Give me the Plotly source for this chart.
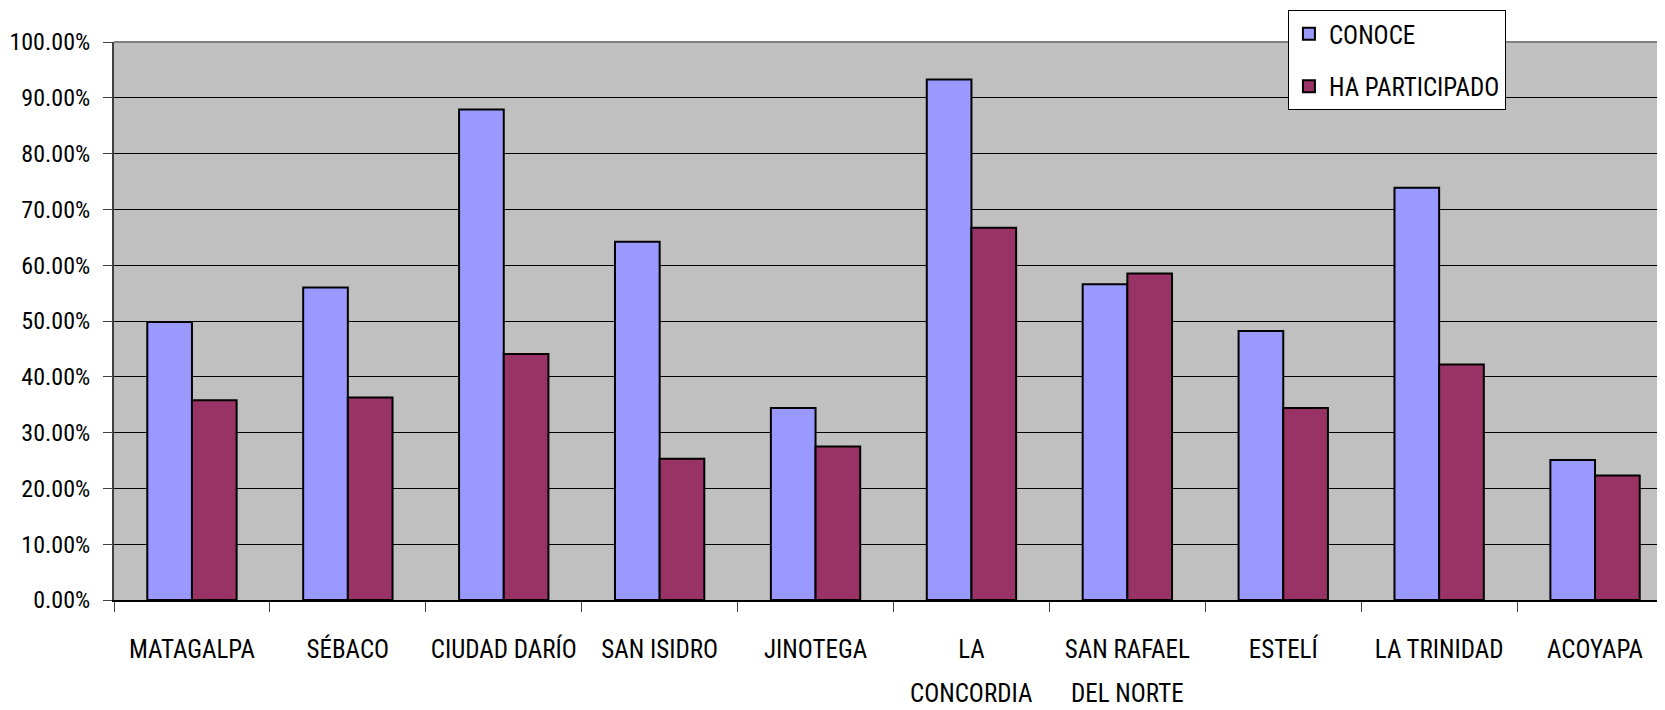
import plotly.graph_objects as go

categories = ["MATAGALPA", "SÉBACO", "CIUDAD DARÍO", "SAN ISIDRO", "JINOTEGA",
              "LA CONCORDIA", "SAN RAFAEL DEL NORTE", "ESTELÍ", "LA TRINIDAD", "ACOYAPA"]
label_line1 = ["MATAGALPA", "SÉBACO", "CIUDAD DARÍO", "SAN ISIDRO", "JINOTEGA",
               "LA", "SAN RAFAEL", "ESTELÍ", "LA TRINIDAD", "ACOYAPA"]
label_line2 = ["", "", "", "", "", "CONCORDIA", "DEL NORTE", "", "", ""]
conoce = [49.8, 56.0, 87.9, 64.2, 34.4, 93.3, 56.6, 48.2, 73.9, 25.1]
participado = [35.8, 36.3, 44.1, 25.3, 27.5, 66.7, 58.5, 34.4, 42.2, 22.3]

FONT = "Liberation Sans Narrow, Arial Narrow, Roboto Condensed, Liberation Sans, sans-serif"

fig = go.Figure()
fig.add_trace(go.Bar(x=categories, y=[v / 100 for v in conoce], name="CONOCE",
                     marker=dict(color="#9999FF", line=dict(color="black", width=2)),
                     legendgroup="a"))
fig.add_trace(go.Bar(x=categories, y=[v / 100 for v in participado], name="HA PARTICIPADO",
                     marker=dict(color="#993366", line=dict(color="black", width=2)),
                     legendgroup="b"))

annotations = []
for c, l2 in zip(categories, label_line2):
    if l2:
        annotations.append(dict(x=c, xref="x", y=-0.1677, yref="paper", text=l2,
                                showarrow=False, yanchor="middle",
                                font=dict(family=FONT, size=25, color="black")))

fig.update_layout(
    width=1665, height=710,
    margin=dict(l=106, r=0, t=34, b=118, autoexpand=False),
    paper_bgcolor="white", plot_bgcolor="#C0C0C0",
    bargap=0.427, bargroupgap=0,
    font=dict(family=FONT, size=25, color="black"),
    legend=dict(x=0.753, xref="paper", y=1 - 2 / 710, yref="container",
                xanchor="left", yanchor="top",
                bgcolor="white", bordercolor="black", borderwidth=1,
                font=dict(family=FONT, size=25, color="black"),
                tracegroupgap=17, traceorder="grouped"),
    annotations=annotations,
    shapes=[dict(type="line", xref="paper", yref="paper", x0=0, x1=1, y0=1, y1=1,
                 line=dict(color="#808080", width=2))],
    xaxis=dict(tickvals=categories, ticktext=label_line1, tickson="boundaries",
               ticks="outside", ticklen=10, tickcolor="#404040", tickwidth=1,
               ticklabelstandoff=26,
               showline=True, linecolor="black", linewidth=2, showgrid=False,
               tickfont=dict(family=FONT, size=25, color="black")),
    yaxis=dict(range=[0, 1], dtick=0.1, tickformat=".2%",
               ticks="outside", ticklen=9, tickcolor="#404040",
               ticklabelstandoff=8,
               showline=True, linecolor="#404040", linewidth=2,
               showgrid=True, gridcolor="black", gridwidth=1, zeroline=False,
               tickfont=dict(family=FONT, size=24, color="black")),
)

fig.write_html("out.html")
